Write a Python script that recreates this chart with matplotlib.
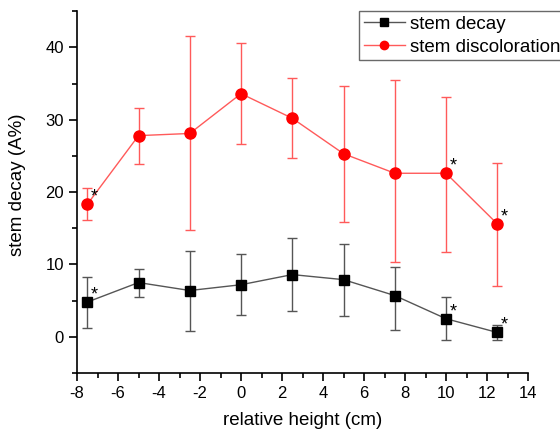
import matplotlib.pyplot as plt
from matplotlib.ticker import MultipleLocator
from matplotlib.lines import Line2D

plt.rcParams['font.family'] = ['Liberation Sans', 'DejaVu Sans']
plt.rcParams['axes.unicode_minus'] = False

height = [-7.5, -5, -2.5, 0, 2.5, 5, 7.5, 10, 12.5]

decay = [4.8, 7.5, 6.4, 7.2, 8.6, 7.9, 5.7, 2.5, 0.6]
decay_hi = [8.3, 9.4, 11.9, 11.5, 13.6, 12.8, 9.6, 5.5, 1.7]
decay_lo = [1.2, 5.5, 0.8, 3.0, 3.6, 2.9, 1.0, -0.5, -0.4]

discol = [18.3, 27.8, 28.1, 33.6, 30.2, 25.3, 22.6, 22.6, 15.6]
discol_hi = [20.6, 31.6, 41.5, 40.6, 35.7, 34.7, 35.5, 33.2, 24.0]
discol_lo = [16.1, 23.9, 14.7, 26.7, 24.7, 15.9, 10.3, 11.7, 7.0]

# points marked as significant
star_x = [-7.5, 10, 12.5]

fig = plt.figure(figsize=(5.6, 4.29), dpi=100)
ax = fig.add_axes([0.1375, 0.1305, 0.8055, 0.8435])

def errs(v, lo, hi):
    return [[a - b for a, b in zip(v, lo)], [b - a for a, b in zip(v, hi)]]

ax.errorbar(height, decay, yerr=errs(decay, decay_lo, decay_hi), color='#555555',
            lw=1, marker='s', ms=7, mfc='black', mec='black', ecolor='#555555',
            elinewidth=1, capsize=3.5, capthick=1, zorder=3)
ax.errorbar(height, discol, yerr=errs(discol, discol_lo, discol_hi), color='#ff5a5a',
            lw=1, marker='o', ms=8, mfc='red', mec='red', ecolor='#ff5a5a',
            elinewidth=1, capsize=3.5, capthick=1, zorder=2)

for x in star_x:
    i = height.index(x)
    for v in (decay[i], discol[i]):
        ax.text(x + 0.35, v + 1.0, '*', fontsize=13, ha='center', va='center')

ax.set_xlim(-8, 14)
ax.set_ylim(-5, 45)
ax.xaxis.set_major_locator(MultipleLocator(2))
ax.xaxis.set_minor_locator(MultipleLocator(1))
ax.yaxis.set_major_locator(MultipleLocator(10))
ax.yaxis.set_minor_locator(MultipleLocator(5))
ax.spines['top'].set_visible(False)
ax.spines['right'].set_visible(False)
ax.tick_params(which='major', length=6, width=1.2, labelsize=12)
ax.tick_params(which='minor', length=3.5, width=1.2)
for s in ('left', 'bottom'):
    ax.spines[s].set_linewidth(1.2)

ax.set_xlabel('relative height (cm)', fontsize=13.5, labelpad=8)
ax.set_ylabel('stem decay (A%)', fontsize=13.5, va='center')
ax.yaxis.set_label_coords(-0.131, 0.52)

handles = [Line2D([], [], color='#555555', lw=1, marker='s', ms=6, mfc='black', mec='black'),
           Line2D([], [], color='#ff5a5a', lw=1, marker='o', ms=6, mfc='red', mec='red')]
leg = ax.legend(handles, ['stem decay', 'stem discoloration'], loc='upper left',
                bbox_to_anchor=(0.625, 1.0), fontsize=13.5,
                frameon=True, fancybox=False, edgecolor='#444444',
                borderpad=0.25, borderaxespad=0, handlelength=2.2, handletextpad=0.3,
                labelspacing=0.3)
leg.get_frame().set_linewidth(1)

fig.savefig('out.png', dpi=100)
